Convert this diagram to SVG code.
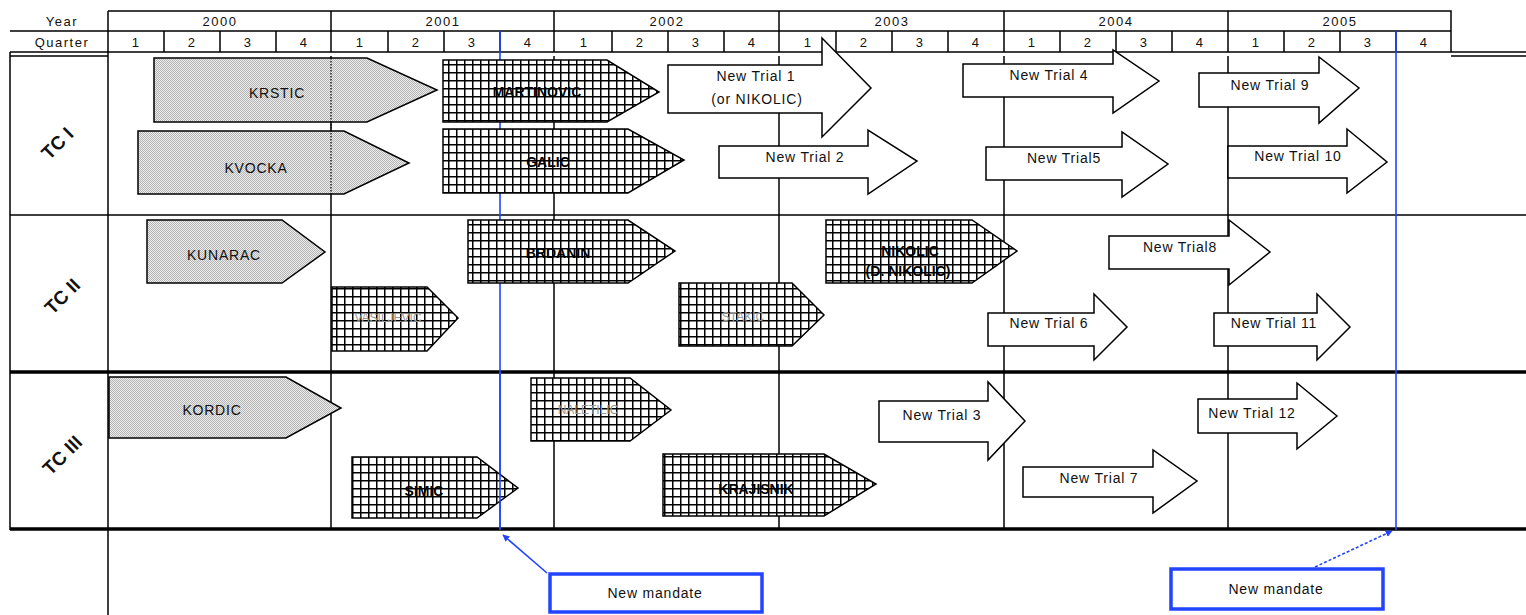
<svg xmlns="http://www.w3.org/2000/svg" width="1526" height="615" viewBox="0 0 1526 615">
<defs>
<pattern id="stip" width="2" height="2" patternUnits="userSpaceOnUse"><rect width="2" height="2" fill="#ececec"/><rect width="1" height="1" fill="#b4b4b4"/><rect x="1" y="1" width="1" height="1" fill="#b4b4b4"/></pattern>
<pattern id="hatch" width="8" height="8" patternUnits="userSpaceOnUse"><rect width="8" height="8" fill="#fff"/><path d="M0 0.75H8M0.75 0V8" stroke="#000" stroke-width="1.5"/></pattern>
<marker id="ah" viewBox="0 0 10 10" refX="9" refY="5" markerWidth="7" markerHeight="7" orient="auto-start-reverse" markerUnits="userSpaceOnUse"><path d="M0 0L10 5L0 10z" fill="#2244ff"/></marker>
</defs>
<style>
.ln{stroke:#000;stroke-width:1.5;fill:none}
.thk{stroke:#000;stroke-width:3.5;fill:none}
.blue{stroke:#2244ff;stroke-width:1.6;fill:none}
.t{font-family:"Liberation Sans",Arial,sans-serif;font-size:14px;fill:#111;text-anchor:middle;letter-spacing:0.8px}
.h{font-family:"Liberation Sans",Arial,sans-serif;font-size:13px;fill:#111;text-anchor:middle;letter-spacing:1.5px}
.tc{font-family:"Liberation Sans",Arial,sans-serif;font-size:19px;font-weight:bold;fill:#111;text-anchor:middle}
.gray{fill:url(#stip);stroke:#000;stroke-width:1.5}
.hat{fill:url(#hatch);stroke:#000;stroke-width:1.5}
.nt{fill:#fff;stroke:#000;stroke-width:1.5}
.hb{font-family:"Liberation Sans",Arial,sans-serif;font-size:14px;font-weight:bold;fill:#000;text-anchor:middle}
.faint{font-family:"Liberation Sans",Arial,sans-serif;font-size:12px;fill:#9a9a9a;text-anchor:middle}
.mbox{fill:#fff;stroke:#2244ff;stroke-width:3.5}
</style>
<rect width="1526" height="615" fill="#fff"/>
<g id="grid">
<path class="ln" d="M108 11H1451V52M108 31H1451M10 31H108M108 11V615M10 52H1526M10 56H108M1451 56H1526M10 52V530"/>
<path class="ln" d="M331 11V52M554 11V52M779 11V52M1004 11V52M1228 11V52"/>
<path class="ln" d="M164 31V52M220 31V52M276 31V52M388 31V52M444 31V52M500 31V52M612 31V52M668 31V52M724 31V52M836 31V52M892 31V52M948 31V52M1060 31V52M1116 31V52M1172 31V52M1284 31V52M1340 31V52M1396 31V52"/>
<path class="ln" d="M331 56V530M554 56V530M779 56V530M1004 56V530M1228 56V530M10 215H1526"/>
<path class="thk" d="M10 372H1526M10 529H1526"/>
<text class="h" x="62" y="26">Year</text>
<text class="h" x="62" y="47">Quarter</text>
<text class="h" x="220" y="26" letter-spacing="3">2000</text>
<text class="h" x="443" y="26" letter-spacing="3">2001</text>
<text class="h" x="667" y="26" letter-spacing="3">2002</text>
<text class="h" x="892" y="26" letter-spacing="3">2003</text>
<text class="h" x="1116" y="26" letter-spacing="3">2004</text>
<text class="h" x="1340" y="26" letter-spacing="3">2005</text>
<g class="h">
<text x="136" y="47">1</text><text x="192" y="47">2</text><text x="248" y="47">3</text><text x="304" y="47">4</text>
<text x="360" y="47">1</text><text x="416" y="47">2</text><text x="472" y="47">3</text><text x="528" y="47">4</text>
<text x="584" y="47">1</text><text x="640" y="47">2</text><text x="696" y="47">3</text><text x="752" y="47">4</text>
<text x="808" y="47">1</text><text x="864" y="47">2</text><text x="920" y="47">3</text><text x="976" y="47">4</text>
<text x="1032" y="47">1</text><text x="1088" y="47">2</text><text x="1144" y="47">3</text><text x="1200" y="47">4</text>
<text x="1256" y="47">1</text><text x="1312" y="47">2</text><text x="1368" y="47">3</text><text x="1424" y="47">4</text>
</g>
<text class="tc" transform="translate(57,143) rotate(-45)" dy="7">TC I</text>
<text class="tc" transform="translate(62,296) rotate(-45)" dy="7">TC II</text>
<text class="tc" transform="translate(62,455) rotate(-45)" dy="7">TC III</text>
</g>
<g id="mandate-lines">
<path class="blue" d="M500 31V530M1396 31V530"/>
</g>
<g id="krstic"><polygon class="gray" points="154,58 367,58 437,90 367,122 154,122"/><text class="t" x="277" y="98">KRSTIC</text></g>
<g id="kvocka"><polygon class="gray" points="138,131 344,131 409,163 344,194 138,194"/><text class="t" x="256" y="173">KVOCKA</text></g>
<path d="M331 58V194" stroke="#000" stroke-width="1.2" stroke-dasharray="1.5 1.5"/>
<g id="martinovic"><polygon class="hat" points="443,60 607,60 659,92 607,122 443,122"/><text class="hb" x="537" y="97">MARTINOVIC</text></g>
<g id="galic"><polygon class="hat" points="443,129 628,129 684,160 628,193 443,193"/><text class="hb" x="548" y="167">GALIC</text></g>
<g id="kunarac"><polygon class="gray" points="147,220 282,220 325,252 282,283 147,283"/><text class="t" x="224" y="260">KUNARAC</text></g>
<g id="brdanin"><polygon class="hat" points="468,220 628,220 675,251 628,283 468,283"/><text class="hb" x="558" y="258">BRDANIN</text></g>
<g id="vasiljevic"><polygon class="hat" points="332,287 427,287 458,318 427,351 332,351"/><text class="faint" x="388" y="322">VASILJEVIC</text></g>
<g id="stakic"><polygon class="hat" points="679,283 792,283 824,315 792,346 679,346"/><text class="faint" x="743" y="321">STAKIC</text></g>
<g id="nikolic"><polygon class="hat" points="826,220 972,220 1017,251 972,283 826,283"/><text class="hb" x="910" y="256" font-size="12">NIKOLIC</text><text class="hb" x="908" y="276" font-size="11">(D. NIKOLIC)</text></g>
<g id="kordic"><polygon class="gray" points="109,377 286,377 341,408 286,438 109,438"/><text class="t" x="212" y="415">KORDIC</text></g>
<g id="tc3-case"><polygon class="hat" points="531,378 630,378 671,410 630,441 531,441"/><text class="faint" x="588" y="414">NALETILIC</text></g>
<g id="simic"><polygon class="hat" points="352,457 477,457 518,488 477,518 352,518"/><text class="hb" x="424" y="496">SIMIC</text></g>
<g id="krajisnik"><polygon class="hat" points="663,454 824,454 876,484 824,516 663,516"/><text class="hb" x="756" y="494">KRAJISNIK</text></g>
<g id="nt1"><polygon class="nt" points="668,65 822,65 822,38 871,88 822,137 822,113 668,113"/><text class="t" x="756" y="81">New Trial 1</text><text class="t" x="757" y="104">(or NIKOLIC)</text></g>
<g id="nt2"><polygon class="nt" points="719,146 868,146 868,130 917,161 868,194 868,178 719,178"/><text class="t" x="805" y="162">New Trial 2</text></g>
<g id="nt4"><polygon class="nt" points="963,64 1113,64 1113,50 1159,81 1113,113 1113,97 963,97"/><text class="t" x="1049" y="80">New Trial 4</text></g>
<g id="nt9"><polygon class="nt" points="1199,73 1319,73 1319,57 1359,88 1319,123 1319,107 1199,107"/><text class="t" x="1270" y="90">New Trial 9</text></g>
<g id="nt5"><polygon class="nt" points="986,147 1122,147 1122,132 1168,164 1122,197 1122,180 986,180"/><text class="t" x="1064" y="163">New Trial5</text></g>
<g id="nt10"><polygon class="nt" points="1228,146 1347,146 1347,129 1387,162 1347,193 1347,178 1228,178"/><text class="t" x="1298" y="161">New Trial 10</text></g>
<g id="nt8"><polygon class="nt" points="1109,236 1229,236 1229,220 1270,252 1229,285 1229,269 1109,269"/><text class="t" x="1180" y="252">New Trial8</text></g>
<g id="nt6"><polygon class="nt" points="988,313 1094,313 1094,294 1127,327 1094,360 1094,346 988,346"/><text class="t" x="1049" y="328">New Trial 6</text></g>
<g id="nt11"><polygon class="nt" points="1214,313 1317,313 1317,294 1350,327 1317,360 1317,346 1214,346"/><text class="t" x="1274" y="328">New Trial 11</text></g>
<g id="nt3"><polygon class="nt" points="879,401 988,401 988,382 1025,421 988,460 988,442 879,442"/><text class="t" x="942" y="420">New Trial 3</text></g>
<g id="nt7"><polygon class="nt" points="1023,467 1153,467 1153,450 1197,481 1153,513 1153,497 1023,497"/><text class="t" x="1099" y="483">New Trial 7</text></g>
<g id="nt12"><polygon class="nt" points="1198,399 1297,399 1297,383 1337,416 1297,449 1297,433 1198,433"/><text class="t" x="1252" y="418">New Trial 12</text></g>
<path class="blue" d="M500 372V529"/>
<g id="connectors">
<path class="blue" d="M547 573L503 535" marker-end="url(#ah)"/>
<path class="blue" d="M1315 567L1392 531" stroke-dasharray="3 2" marker-end="url(#ah)"/>
</g>
<g id="mandate1"><rect class="mbox" x="550" y="574" width="212" height="38"/><text class="t" x="655" y="598" font-size="13">New mandate</text></g>
<g id="mandate2"><rect class="mbox" x="1171" y="569" width="212" height="40"/><text class="t" x="1276" y="594" font-size="13">New mandate</text></g>
</svg>
